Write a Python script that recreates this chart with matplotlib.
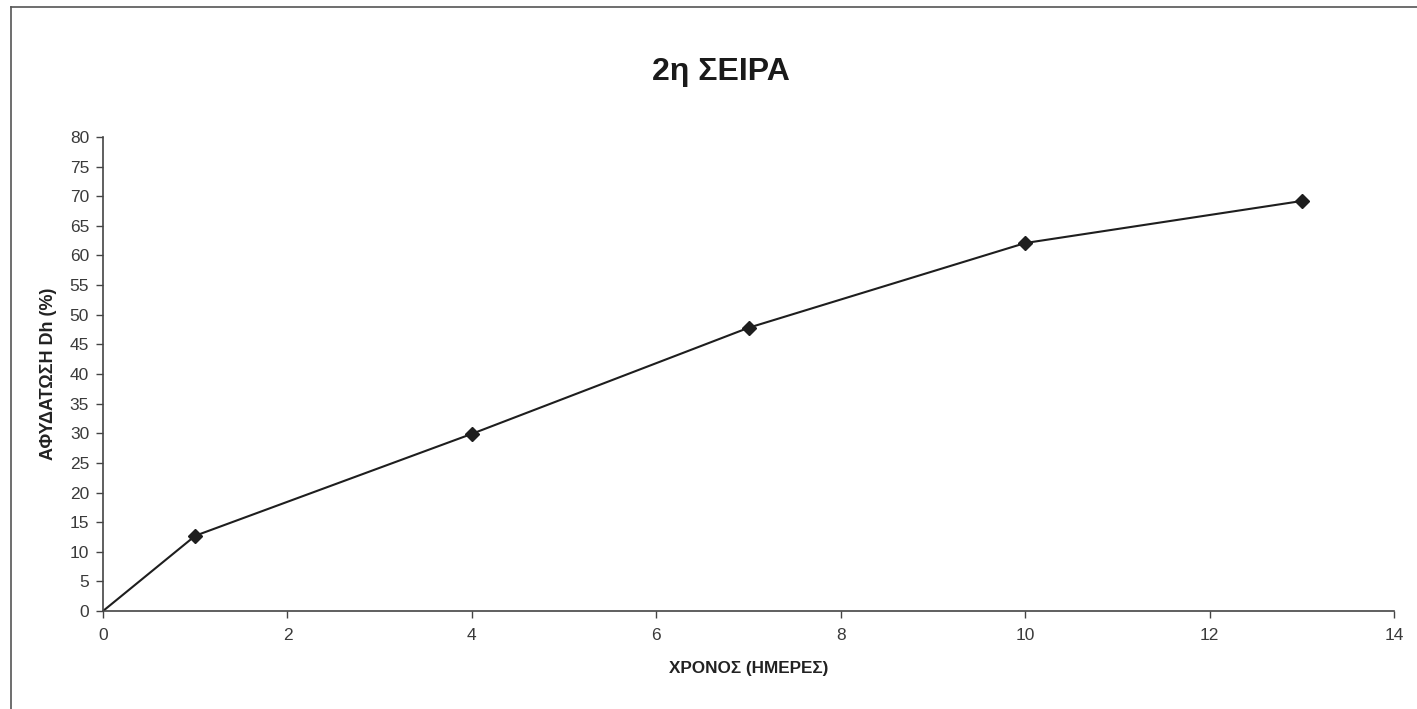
import matplotlib.pyplot as plt
from matplotlib.lines import Line2D

# 2η σειρά - αφυδάτωση με τον χρόνο
days = [0, 1, 4, 7, 10, 13]
dh = [0, 12.7, 29.9, 47.8, 62.1, 69.2]

x_ticks = list(range(0, 15, 2))
y_ticks = list(range(0, 81, 5))

plt.rcParams['font.family'] = ['Liberation Sans', 'DejaVu Sans']

fig = plt.figure(figsize=(14.17, 7.09), dpi=100)
ax = fig.add_axes([0.0727, 0.1382, 0.9111, 0.6686])

# the origin is part of the line but carries no marker
ax.plot(days, dh, color='#1e1e1e', linewidth=1.5, marker='D',
        markersize=7, markerfacecolor='#1e1e1e', markeredgecolor='#1e1e1e',
        markevery=list(range(1, len(days))))

ax.set_xlim(0, 14)
ax.set_ylim(0, 80)
ax.set_xticks(x_ticks)
ax.set_yticks(y_ticks)

for side in ['top', 'right']:
    ax.spines[side].set_visible(False)
for side in ['left', 'bottom']:
    ax.spines[side].set_color('#444444')
    ax.spines[side].set_linewidth(1.2)

ax.tick_params(axis='both', direction='out', length=5, width=1,
               color='#444444', labelcolor='#3a3a3a', labelsize=12.5)
ax.tick_params(axis='x', pad=7)
ax.tick_params(axis='y', pad=5)

ax.set_xlabel('ΧΡΟΝΟΣ (ΗΜΕΡΕΣ)', fontsize=12.3, fontweight='bold',
              color='#222222', labelpad=13)
ax.set_ylabel('ΑΦΥΔΑΤΩΣΗ Dh (%)', fontsize=13, fontweight='bold',
              color='#222222', labelpad=9)

fig.text(721 / 1417, 1 - 72 / 709, '2η ΣΕΙΡΑ', fontsize=23,
         fontweight='bold', color='#1a1a1a', ha='center', va='center')

# chart area border (left and top edges)
fig.add_artist(Line2D([11 / 1417, 11 / 1417], [0, 1 - 7 / 709],
                      transform=fig.transFigure, color='#555555', linewidth=1.2))
fig.add_artist(Line2D([11 / 1417, 1], [1 - 7 / 709, 1 - 7 / 709],
                      transform=fig.transFigure, color='#555555', linewidth=1.2))

fig.savefig('out.png', dpi=100)
